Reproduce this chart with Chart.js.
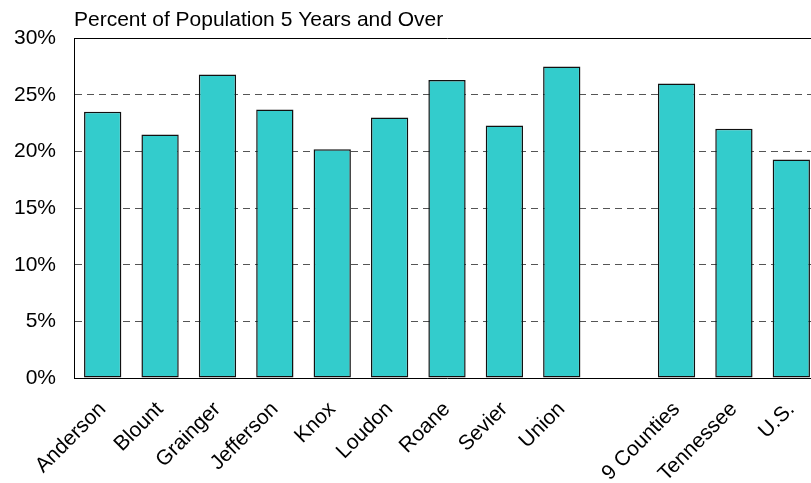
<!DOCTYPE html>
<html>
<head>
<meta charset="utf-8">
<script src="https://cdn.jsdelivr.net/npm/chart.js@4"></script>
<style>
	body { margin: 0; width: 811px; height: 483px; overflow: hidden; background: #fff; }
	#wrap { width: 822px; height: 483px; }
</style>
</head>
<body>
<div id="wrap"><canvas id="chart"></canvas></div>
<script>
const places = ['Anderson', 'Blount', 'Grainger', 'Jefferson', 'Knox', 'Loudon', 'Roane', 'Sevier', 'Union', '', '9 Counties', 'Tennessee', 'U.S.'];
const percents = [23.5, 21.5, 26.8, 23.7, 20.2, 23.0, 26.3, 22.3, 27.5, null, 26.0, 22.0, 19.3];
const yTicks = [0, 5, 10, 15, 20, 25, 30];

Chart.defaults.font.family = "'Liberation Sans', Arial, sans-serif";
Chart.defaults.font.size = 21;
Chart.defaults.color = '#000';

const ctx = document.getElementById('chart').getContext('2d');
const myChart = new Chart(ctx, {
	type: 'bar',
	data: {
		labels: places,
		datasets: [
			{
				data: percents,
				backgroundColor: '#33CCCC',
				borderColor: '#111',
				borderWidth: 1.5,
				borderSkipped: false,
				barPercentage: 0.65,
				categoryPercentage: 1,
			},
		],
	},
	options: {
		responsive: true,
		maintainAspectRatio: false,
		animation: false,
		layout: { padding: { left: 0, right: 2, top: 0, bottom: 0 } },
		plugins: {
			legend: { display: false },
			tooltip: { enabled: false },
			title: {
				display: true,
				text: 'Percent of Population 5 Years and Over',
				align: 'start',
				fullSize: false,
				font: { size: 21, weight: 'normal' },
				padding: { top: 8, bottom: 5 },
			},
		},
		scales: {
			x: {
				grid: { display: false },
				border: { color: '#000', width: 1 },
				ticks: { minRotation: 45, maxRotation: 45, padding: 11, autoSkip: false },
				afterFit: (s) => { s.height = 105; },
			},
			x2: {
				position: 'top',
				labels: places,
				grid: { display: false, drawTicks: false },
				border: { color: '#000', width: 1 },
				ticks: { display: false },
				afterFit: (s) => { s.height = 0; },
			},
			y: {
				min: 0,
				max: 30,
				afterBuildTicks: (s) => { s.ticks = yTicks.map((v) => ({ value: v })); },
				ticks: { padding: 18, callback: (v) => v + '%' },
				grid: {
					drawTicks: false,
					color: (c) => (c.tick && (c.tick.value === 30 || c.tick.value === 0) ? 'rgba(0,0,0,0)' : '#555'),
				},
				border: { color: '#000', width: 1, dash: [7, 5] },
				afterFit: (s) => { s.width = 74; },
			},
		},
	},
});
</script>
</body>
</html>
